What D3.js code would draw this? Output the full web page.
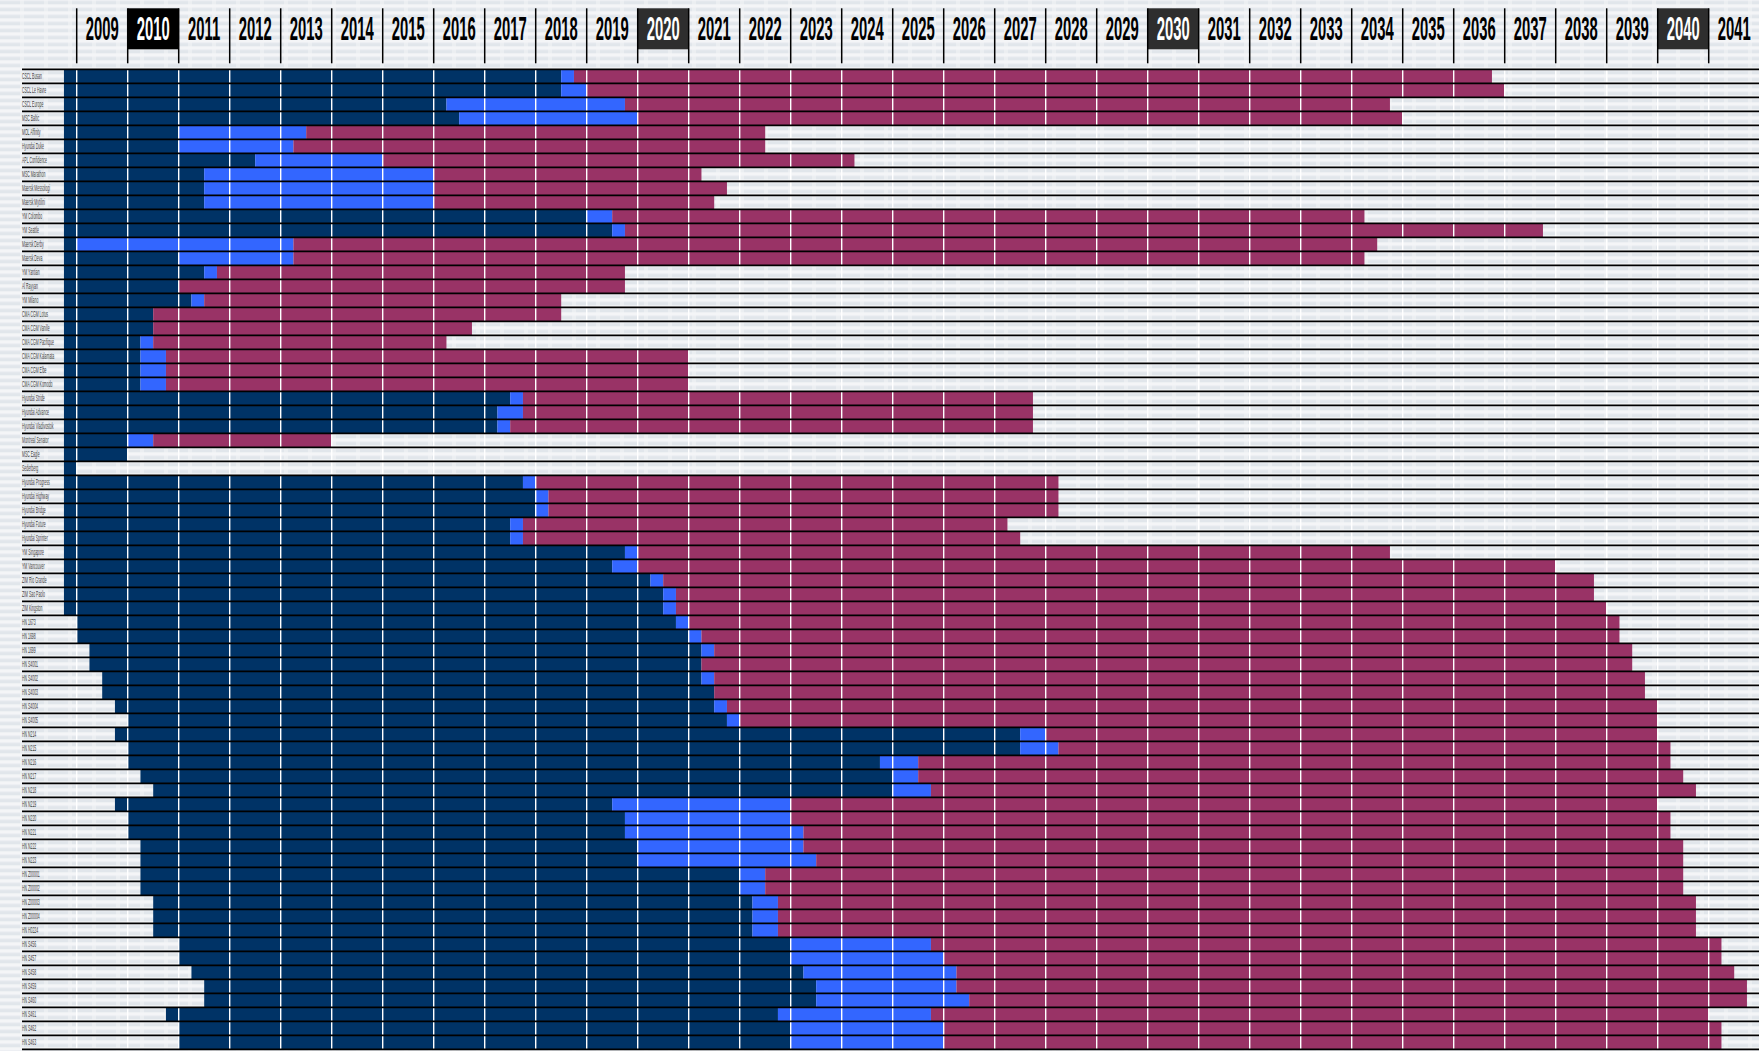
<!DOCTYPE html>
<html>
<head>
<meta charset="utf-8">
<script src="https://cdn.jsdelivr.net/npm/d3@7"></script>
<style>
html,body{margin:0;padding:0;background:#f2f4f6;overflow:hidden;}
svg{display:block;}
</style>
</head>
<body>
<svg id="chart" width="1759" height="1051"></svg>
<script>
// ---------- DATA ----------
const years = [2009,2010,2011,2012,2013,2014,2015,2016,2017,2018,2019,2020,2021,2022,2023,2024,2025,2026,2027,2028,2029,2030,2031,2032,2033,2034,2035,2036,2037,2038,2039,2040,2041];
const highlightYears = [2010, 2020, 2030, 2040];

const ships = ["CSCL Busan","CSCL Le Havre","CSCL Europe","MSC Baltic","MOL Affinity","Hyundai Duke","APL Confidence","MSC Marathon","Maersk Messologi","Maersk Mytilini","YM Colombo","YM Seattle","Maersk Derby","Maersk Deva","YM Yantian","Al Rayyan","YM Milano","CMA CGM Lotus","CMA CGM Vanille","CMA CGM Pacifique","CMA CGM Kalamata","CMA CGM Elbe","CMA CGM Komodo","Hyundai Stride","Hyundai Advance","Hyundai Vladivostok","Montreal Senator","MSC Eagle","Sederberg","Hyundai Progress","Hyundai Highway","Hyundai Bridge","Hyundai Future","Hyundai Sprinter","YM Singapore","YM Vancouver","ZIM Rio Grande","ZIM Sao Paolo","ZIM Kingston","HN 1673","HN 1698","HN 1699","HN S4001","HN S4002","HN S4003","HN S4004","HN S4005","HN N214","HN N215","HN N216","HN N217","HN N218","HN N219","HN N220","HN N221","HN N222","HN N223","HN Z00001","HN Z00002","HN Z00003","HN Z00004","HN H0224","HN S456","HN S457","HN S458","HN S459","HN S460","HN S461","HN S462","HN S463"];

// start of first (navy) phase
const phase1Start = [2008.75,2008.75,2008.75,2008.75,2008.75,2008.75,2008.75,2008.75,2008.75,2008.75,2008.75,2008.75,2008.75,2008.75,2008.75,2008.75,2008.75,2008.75,2008.75,2008.75,2008.75,2008.75,2008.75,2008.75,2008.75,2008.75,2008.75,2008.75,2008.75,2008.75,2008.75,2008.75,2008.75,2008.75,2008.75,2008.75,2008.75,2008.75,2008.75,2009.0,2009.0,2009.25,2009.25,2009.5,2009.5,2009.75,2010.0,2009.75,2010.0,2010.0,2010.25,2010.5,2009.75,2010.0,2010.0,2010.25,2010.25,2010.25,2010.25,2010.5,2010.5,2010.5,2011.0,2011.0,2011.25,2011.5,2011.5,2010.75,2011.0,2011.0];
// start of second (bright blue) phase
const phase2Start = [2018.5,2018.5,2016.25,2016.5,2011.0,2011.0,2012.5,2011.5,2011.5,2011.5,2019.0,2019.5,2009.0,2011.0,2011.5,2011.0,2011.25,2010.5,2010.5,2010.25,2010.25,2010.25,2010.25,2017.5,2017.25,2017.25,2010.0,2010.0,2009.0,2017.75,2018.0,2018.0,2017.5,2017.5,2019.75,2019.5,2020.25,2020.5,2020.5,2020.75,2021.0,2021.25,2021.25,2021.25,2021.5,2021.5,2021.75,2027.5,2027.5,2024.75,2025.0,2025.0,2019.5,2019.75,2019.75,2020.0,2020.0,2022.0,2022.0,2022.25,2022.25,2022.25,2023.0,2023.0,2023.25,2023.5,2023.5,2022.75,2023.0,2023.0];
// start of third (maroon) phase
const phase3Start = [2018.75,2019.0,2019.75,2020.0,2013.5,2013.25,2015.0,2016.0,2016.0,2016.0,2019.5,2019.75,2013.25,2013.25,2011.75,2011.0,2011.5,2010.5,2010.5,2010.5,2010.75,2010.75,2010.75,2017.75,2017.75,2017.5,2010.5,2010.0,2009.0,2018.0,2018.25,2018.25,2017.75,2017.75,2020.0,2020.0,2020.5,2020.75,2020.75,2021.0,2021.25,2021.5,2021.25,2021.5,2021.5,2021.75,2022.0,2028.0,2028.25,2025.5,2025.5,2025.75,2023.0,2023.0,2023.25,2023.25,2023.5,2022.5,2022.5,2022.75,2022.75,2022.75,2025.75,2026.0,2026.25,2026.25,2026.5,2025.75,2026.0,2026.0];
// end of last phase
const phaseEnd = [2036.75,2037.0,2034.75,2035.0,2022.5,2022.5,2024.25,2021.25,2021.75,2021.5,2034.25,2037.75,2034.5,2034.25,2019.75,2019.75,2018.5,2018.5,2016.75,2016.25,2021.0,2021.0,2021.0,2027.75,2027.75,2027.75,2014.0,2010.0,2009.0,2028.25,2028.25,2028.25,2027.25,2027.5,2034.75,2038.0,2038.75,2038.75,2039.0,2039.25,2039.25,2039.5,2039.5,2039.75,2039.75,2040.0,2040.0,2040.0,2040.25,2040.25,2040.5,2040.75,2040.0,2040.25,2040.25,2040.5,2040.5,2040.5,2040.5,2040.75,2040.75,2040.75,2041.25,2041.25,2041.5,2041.75,2041.75,2041.0,2041.25,2041.25];

const phaseColors = ["#003366", "#3366ff", "#993366"];

// ---------- CHART ----------
const W = 1759, H = 1051;
const svg = d3.select("#chart");
const defs = svg.append("defs");
const FONT = "'Liberation Sans Narrow', 'Liberation Sans', Arial, sans-serif";

// scan-line like background texture
const pat = defs.append("pattern").attr("id","tex").attr("patternUnits","userSpaceOnUse")
  .attr("width", 24).attr("height", 7).attr("y", 69.3);
pat.append("rect").attr("width",24).attr("height",7).attr("fill","#f4f5f7");
pat.append("rect").attr("x",0).attr("y",1.5).attr("width",20).attr("height",3.5).attr("fill","#e1e6eb");
pat.append("rect").attr("x",20).attr("y",1.5).attr("width",4).attr("height",3.5).attr("fill","#ebeef1");

svg.append("rect").attr("width",W).attr("height",H).attr("fill","url(#tex)");

const x = d3.scaleLinear().domain([2009, 2042]).range([76.7, 1759.7]);
const y = d3.scaleBand().domain(ships).range([69.3, 69.3 + ships.length * 14]).padding(0);

// bars
const rows = ships.map((name, i) => ({
  name,
  segs: [
    [phase1Start[i], phase2Start[i], phaseColors[0]],
    [phase2Start[i], phase3Start[i], phaseColors[1]],
    [phase3Start[i], phaseEnd[i], phaseColors[2]]
  ].filter(s => s[1] > s[0])
}));

const rowG = svg.append("g").selectAll("g").data(rows).join("g")
  .attr("transform", d => `translate(0,${y(d.name)})`);
rowG.selectAll("rect").data(d => d.segs).join("rect")
  .attr("x", s => x(s[0]))
  .attr("width", s => x(s[1]) - x(s[0]))
  .attr("y", 0)
  .attr("height", y.bandwidth())
  .attr("fill", s => s[2]);

// white year gridlines
svg.append("g").selectAll("line").data(years.concat([2042])).join("line")
  .attr("x1", d => x(d)).attr("x2", d => x(d))
  .attr("y1", y.range()[0]).attr("y2", y.range()[1])
  .attr("stroke", "#ffffff").attr("stroke-width", 1.4);

// black row separators
const sepYs = ships.map(s => y(s)).concat([y.range()[1]]);
svg.append("g").selectAll("line").data(sepYs).join("line")
  .attr("x1", 22).attr("x2", W)
  .attr("y1", d => d).attr("y2", d => d)
  .attr("stroke", "#000").attr("stroke-width", 1.7);

// row labels (condensed: "CSCL Busan" is ~20px wide in the reference)
const labels = svg.append("g").selectAll("text").data(ships).join("text")
  .attr("font-family", FONT)
  .attr("font-size", 8.5)
  .attr("fill", "#3a3a3a")
  .text(d => d);
const refW = labels.filter((d, i) => i === 0).node().getComputedTextLength();
const labScale = 20 / refW;
labels.attr("transform", d => `translate(22,${y(d) + y.bandwidth()/2 + 3}) scale(${labScale},1)`);

// header
const header = svg.append("g");
const colW = x(2010) - x(2009);
header.selectAll("rect.hl").data(highlightYears).join("rect")
  .attr("class","hl")
  .attr("x", d => x(d)).attr("y", 8.3)
  .attr("width", colW).attr("height", 41)
  .attr("fill", d => d === 2010 ? "#000000" : "#2e2e2e");
header.selectAll("line").data(years).join("line")
  .attr("x1", d => x(d)).attr("x2", d => x(d))
  .attr("y1", 8.3).attr("y2", 63.3)
  .attr("stroke", "#000").attr("stroke-width", 1.5);
const yearTexts = header.selectAll("text").data(years).join("text")
  .attr("text-anchor", "middle")
  .attr("font-family", FONT)
  .attr("font-weight", "bold")
  .attr("font-size", 33)
  .attr("fill", d => highlightYears.includes(d) ? "#ffffff" : "#000000")
  .text(d => d);
const yw = yearTexts.filter((d, i) => i === 0).node().getComputedTextLength();
const ys = 33 / yw;
yearTexts.attr("transform", d => `translate(${x(d) + colW/2},39.5) scale(${ys},1)`);
</script>
</body>
</html>
